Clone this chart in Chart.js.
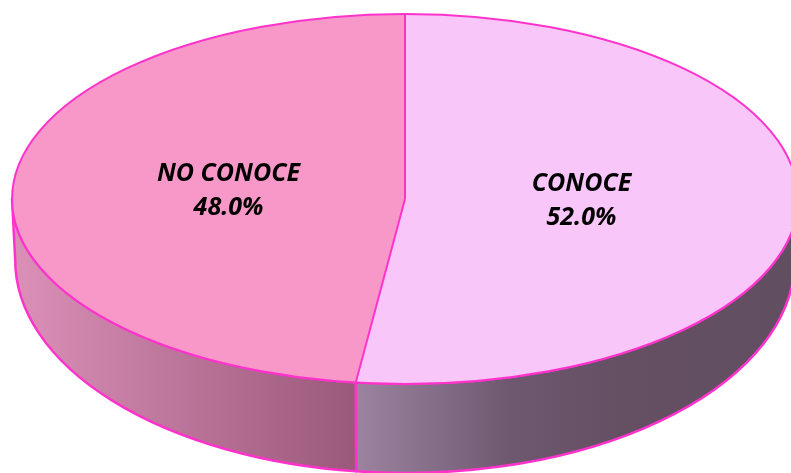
<!DOCTYPE html>
<html>
<head>
<meta charset="utf-8">
<script src="https://cdn.jsdelivr.net/npm/chart.js@4/dist/chart.umd.min.js"></script>
<style>
  html, body { margin: 0; padding: 0; background: #fff; overflow: hidden; }
  #chart { display: block; }
</style>
</head>
<body>
<canvas id="chart" width="810" height="473"></canvas>
<script>
const categories = ['CONOCE', 'NO CONOCE'];
const values = [52.0, 48.0];

const topColors = ['#F9C6F9', '#F898C9'];
const sideStops = [
  [[0, '#9C84A0'], [0.35, '#6E5870'], [0.6, '#644F63'], [1, '#624E61']],
  [[0, '#DB90B8'], [1, '#9A597A']]
];
const edgeColor = '#FF33CC';

// how the flat pie is squashed into a tilted disc
const stretchX = 2.124, bottomShift = 0.33, bottomRx = 0.992, bottomRy = 1.151;

const geo = (chart) => {
  const el = chart.getDatasetMeta(0).data[0];
  const r = el.outerRadius;
  return {
    x0: el.x, y0: el.y, r: r,
    cx: el.x, cy: el.y, rx: r * stretchX, ry: r,
    cy2: el.y + r * bottomShift, rx2: r * stretchX * bottomRx, ry2: r * bottomRy
  };
};

const pie3d = {
  id: 'pie3d',
  beforeDatasetsDraw(chart) {
    const ctx = chart.ctx, g = geo(chart);
    const arcs = chart.getDatasetMeta(0).data;

    // front walls
    arcs.forEach((a, i) => {
      const s = Math.max(a.startAngle, 0), e = Math.min(a.endAngle, Math.PI);
      if (e <= s) return;
      const xa = g.cx + g.rx * Math.cos(e), xb = g.cx + g.rx * Math.cos(s);
      const grad = ctx.createLinearGradient(Math.min(xa, xb), 0, Math.max(xa, xb), 0);
      sideStops[i].forEach(st => grad.addColorStop(st[0], st[1]));
      ctx.save();
      ctx.beginPath();
      ctx.ellipse(g.cx, g.cy, g.rx, g.ry, 0, s, e);
      ctx.lineTo(g.cx + g.rx2 * Math.cos(e), g.cy2 + g.ry2 * Math.sin(e));
      ctx.ellipse(g.cx, g.cy2, g.rx2, g.ry2, 0, e, s, true);
      ctx.closePath();
      ctx.fillStyle = grad;
      ctx.fill();
      ctx.lineWidth = 2.5;
      ctx.strokeStyle = edgeColor;
      ctx.lineJoin = 'round';
      ctx.stroke();
      ctx.restore();
    });

    // squash the top face
    ctx.save();
    ctx.translate(g.cx, g.cy);
    ctx.scale(g.rx / g.r, g.ry / g.r);
    ctx.translate(-g.x0, -g.y0);
  },
  afterDatasetsDraw(chart) {
    const ctx = chart.ctx;
    ctx.restore();
    const g = geo(chart);
    const arcs = chart.getDatasetMeta(0).data;

    ctx.save();
    ctx.strokeStyle = edgeColor;
    ctx.lineJoin = 'round';
    ctx.lineWidth = 2;
    ctx.beginPath();
    ctx.ellipse(g.cx, g.cy, g.rx, g.ry, 0, 0, Math.PI * 2);
    ctx.stroke();
    arcs.forEach(a => {
      ctx.beginPath();
      ctx.moveTo(g.cx, g.cy);
      ctx.lineTo(g.cx + g.rx * Math.cos(a.startAngle), g.cy + g.ry * Math.sin(a.startAngle));
      ctx.stroke();
    });

    // labels
    ctx.fillStyle = '#000';
    ctx.font = 'italic bold 25px "Open Sans", Lato, sans-serif';
    ctx.textAlign = 'center';
    ctx.textBaseline = 'middle';
    arcs.forEach((a, i) => {
      const mid = (a.startAngle + a.endAngle) / 2;
      const px = g.cx + g.rx * 0.45 * Math.cos(mid);
      const py = g.cy + g.ry * 0.45 * Math.sin(mid) - 3;
      ctx.fillText(categories[i], px, py - 17);
      ctx.fillText(values[i].toFixed(1) + '%', px, py + 17);
    });
    ctx.restore();
  }
};

new Chart(document.getElementById('chart'), {
  type: 'pie',
  data: {
    labels: categories,
    datasets: [{
      data: values,
      backgroundColor: topColors,
      borderWidth: 0
    }]
  },
  options: {
    responsive: false,
    animation: false,
    devicePixelRatio: 1,
    layout: { padding: { top: 14, bottom: 89, left: 0, right: 0 } },
    plugins: {
      legend: { display: false },
      tooltip: { enabled: false }
    }
  },
  plugins: [pie3d]
});
</script>
</body>
</html>
